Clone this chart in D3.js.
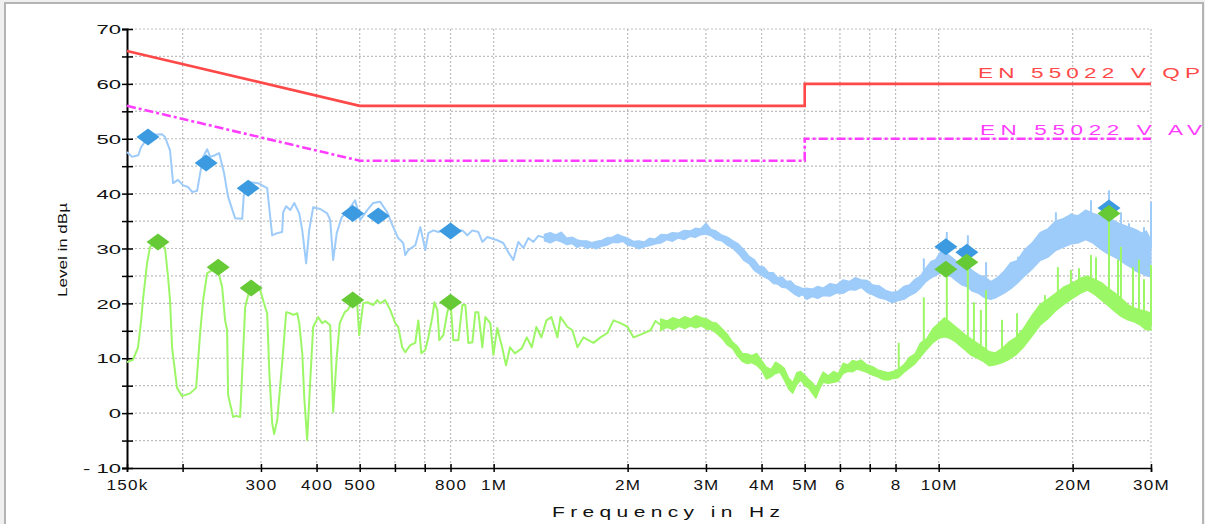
<!DOCTYPE html>
<html>
<head>
<meta charset="utf-8">
<script src="https://cdn.jsdelivr.net/npm/d3@7"></script>
<style>
  body { margin: 0; background: #fff; }
  svg { display: block; font-family: "Liberation Sans", Arial, sans-serif; }
</style>
</head>
<body>
<div id="chart-area"></div>
<script>
// frequencies in kHz, levels in dBµV
const xTickValues = [150, 200, 300, 400, 500, 600, 700, 800, 1000, 2000, 3000, 4000, 5000, 6000, 7000, 8000, 10000, 20000, 30000]
const xTickLabels = ["150k", "", "300", "400", "500", "", "", "800", "1M", "2M", "3M", "4M", "5M", "6", "", "8", "10M", "20M", "30M"]
const yTickValues = [-10, -5, 0, 5, 10, 15, 20, 25, 30, 35, 40, 45, 50, 55, 60, 65, 70]
const yTickLabels = ["- 10", "", "0", "", "10", "", "20", "", "30", "", "40", "", "50", "", "60", "", "70"]

const qpFreq = [150, 500, 5000, 5000, 30000]
const qpLevel = [66, 56, 56, 60, 60]
const avFreq = [150, 500, 5000, 5000, 30000]
const avLevel = [56, 46, 46, 50, 50]

// peak trace, thin part [kHz, dB]
const peakTrace = [[150,47.6],[154,46.7],[159,47.0],[161.4,48.5],[169,50.7],[179.8,50.8],[182.6,50.3],[187.4,47.9],[190.4,41.9],[195.3,42.5],[200.5,41.5],[205.8,41.2],[210.1,40.3],[215.6,40.5],[219,43.7],[222.4,46.7],[227.1,48.1],[230.6,46.7],[236.7,47.0],[241.6,47.4],[247.9,43.7],[253.1,39.4],[262.5,35.5],[272.2,35.4],[275,40.6],[280.8,42.1],[295.7,41.9],[309.8,41.0],[317.9,32.4],[326.3,32.8],[334.8,33.0],[336.5,36.6],[341.8,37.7],[349.1,37.0],[356.4,38.3],[365.7,36.4],[371.5,33.3],[379,27.3],[385,33.3],[393,37.5],[407.5,37.2],[422.6,36.4],[429.2,35.2],[435.9,27.9],[444,32.8],[455.6,35.7],[467.6,36.6],[488.5,38.8],[501.3,35.2],[519.8,37.0],[536.2,38.3],[556,38.5],[576.5,36.6],[594.7,33.9],[610.3,31.9],[626.4,31.0],[633,28.8],[642.8,29.7],[666.7,30.6],[684.2,33.9],[702.2,29.7],[713.2,32.8],[731.9,33.3],[751,33.0],[778.8,33.5],[820.2,33.3],[850.5,33.3],[872.9,32.4],[895.8,33.3],[923.8,33.0],[943.2,31.2],[967.9,32.1],[1019,31.5],[1051,31.0],[1079,29.3],[1107,27.9],[1136,31.2],[1166,30.1],[1197,31.9],[1228,31.2],[1260,32.3],[1300,32.0]]
// peak trace, dense part [kHz, low, high]
const peakBand = [[1300,31.4,32.6],[1340,31.0,32.9],[1380,31.5,32.5],[1420,31.2,33.0],[1460,30.7,31.9],[1500,30.9,32.1],[1540,30.2,31.6],[1580,30.5,31.4],[1620,30.0,31.4],[1660,30.3,31.1],[1700,29.9,31.3],[1750,30.4,31.5],[1800,30.6,32.0],[1850,31.1,32.1],[1900,31.0,32.6],[1950,31.3,32.2],[2000,30.6,31.9],[2060,30.4,31.3],[2120,29.9,31.4],[2180,30.3,31.2],[2240,30.5,31.9],[2300,30.8,31.7],[2380,31.0,32.6],[2450,31.6,32.5],[2520,31.3,32.9],[2600,31.9,32.8],[2680,31.6,33.3],[2760,32.2,33.2],[2840,32.0,33.7],[2920,32.5,33.6],[3000,32.6,34.6],[3080,32.3,33.5],[3160,31.6,33.2],[3250,31.4,32.5],[3350,30.6,32.1],[3450,30.0,31.4],[3550,29.0,30.8],[3650,27.8,29.8],[3750,27.2,28.6],[3850,26.0,28.0],[3950,25.4,26.8],[4050,24.8,26.6],[4150,24.4,25.6],[4250,23.6,25.6],[4350,23.5,24.7],[4450,22.9,24.8],[4550,22.8,24.0],[4650,22.2,24.1],[4750,21.6,23.3],[4850,21.2,23.0],[4950,21.6,22.7],[5050,20.7,22.8],[5200,21.2,22.6],[5350,20.9,23.1],[5500,21.4,22.8],[5700,21.3,23.6],[5900,21.9,23.4],[6100,21.8,24.3],[6300,22.5,24.0],[6500,22.4,24.7],[6700,22.9,24.3],[6900,22.0,24.2],[7100,21.6,23.4],[7350,21.0,23.2],[7600,20.7,22.4],[7850,20.1,22.0],[8100,20.5,22.2],[8350,20.7,23.1],[8600,21.4,23.4],[8850,21.9,24.4],[9100,22.8,25.0],[9350,23.9,26.4],[9600,24.6,27.6],[9850,25.1,28.0],[10100,25.6,29.5],[10400,25.2,29.2],[10700,24.8,28.4],[11000,24.0,27.6],[11300,23.3,27.0],[11600,23.0,26.8],[11900,22.2,26.0],[12300,21.8,25.2],[12700,21.0,24.8],[13100,20.7,24.0],[13500,21.1,24.6],[14000,21.8,25.8],[14500,22.6,27.4],[15000,23.6,27.8],[15600,25.0,29.8],[16200,26.2,31.0],[16900,27.8,32.9],[17600,28.4,33.6],[18300,29.6,35.0],[19000,30.2,35.4],[19800,30.8,36.2],[20600,31.0,36.0],[21400,31.6,37.0],[22200,31.0,36.4],[23000,30.0,36.0],[23800,29.2,35.4],[24600,28.6,35.2],[25400,28.0,34.6],[26200,27.2,34.2],[27000,26.6,33.8],[27800,25.8,33.4],[28600,25.4,32.8],[29300,25.0,33.2],[30000,24.8,31.5]]
// peak spikes [kHz, base, top]
const peakSpikes = [[9260,24,28.2],[10430,28,33.0],[11630,26,32.4],[12780,23,27.5],[15080,25,28.5],[18340,33,36.6],[19820,34,36.4],[21990,35,38.8],[24140,35,40.6],[25680,33,36.6],[26770,31,34.6],[28930,30,33.9],[30000,30,38.5]]

// average trace
const avgTrace = [[150,9.3],[154.7,9.7],[158.8,12.0],[161.4,16.9],[162.9,20.6],[166.4,27.3],[169,30.3],[176.1,31.3],[182.6,30.1],[185.5,24.8],[187.4,20.6],[189.4,12.0],[194.3,4.6],[199.4,3.1],[207.9,3.6],[214.5,4.6],[219,14.6],[222.4,20.6],[227.1,25.5],[234.2,26.1],[239.1,26.6],[245.4,23.0],[249.2,16.9],[251.8,15.1],[253.1,3.3],[259.8,-0.7],[264,-0.5],[269.3,-0.7],[275,15.1],[276.4,19.3],[283.7,22.9],[298.8,22.4],[306.6,19.3],[309.8,18.2],[313.3,7.3],[317.9,-1.8],[321.2,-3.8],[326.3,-1.3],[334.8,9.1],[341.8,18.4],[349.1,18.2],[354.5,17.9],[362,18.2],[365.7,16.4],[371.5,10.9],[375.3,2.9],[381,-4.9],[386.9,5.5],[393,15.7],[403.3,17.5],[411.8,16.4],[418.2,16.8],[429.2,16.0],[435.9,0.2],[444,10.2],[450.9,16.4],[462.8,18.4],[470,18.8],[482.3,20.4],[493.5,20.0],[498.7,14.2],[509.1,20.0],[519.8,20.2],[536.2,19.7],[547.4,20.6],[556,20.0],[570.6,20.6],[585.6,18.8],[601,16.4],[610.3,15.7],[623.1,12.0],[632.9,11.1],[649.7,12.4],[666.7,12.8],[677.2,16.9],[687.8,10.9],[702.2,11.5],[713.2,13.8],[728.1,17.5],[735.7,20.2],[747.2,18.8],[754.9,13.3],[770.7,14.2],[786.9,18.4],[800,20.3],[811.7,13.3],[833,13.3],[850.5,19.7],[863.9,19.7],[877.4,12.8],[895.8,12.9],[909.6,18.4],[923.8,18.4],[943.2,12.0],[957.9,17.5],[983,16.4],[998.4,10.6],[1019,15.5],[1035,13.3],[1045,12.0],[1066,8.7],[1088,12.0],[1116,10.9],[1157,11.8],[1187,13.8],[1218,12.0],[1247,15.7],[1280,13.8],[1314,16.9],[1348,17.5],[1391,13.8],[1413,17.5],[1465,15.7],[1503,15.1],[1543,12.0],[1591,13.8],[1676,12.8],[1738,13.8],[1802,14.6],[1859,16.9],[1928,16.4],[2000,15.7],[2062,13.8],[2138,14.3],[2252,15.1],[2310,16.8],[2371,16.1]]
const avgBand = [[2371,15.0,17.2],[2450,15.6,16.8],[2530,15.2,17.4],[2610,15.8,17.0],[2690,15.4,17.6],[2770,15.9,17.2],[2850,15.5,17.8],[2930,15.9,17.4],[3010,15.3,17.2],[3090,15.2,16.6],[3170,14.5,16.4],[3260,13.6,15.4],[3350,12.4,14.4],[3440,11.8,13.0],[3530,10.4,12.2],[3620,9.4,10.9],[3710,9.0,10.8],[3800,9.2,10.5],[3900,8.7,10.9],[4000,7.8,9.6],[4100,6.2,8.4],[4200,6.6,8.0],[4300,7.2,9.3],[4400,7.4,8.8],[4500,6.0,8.2],[4600,4.4,6.4],[4700,3.6,5.6],[4800,5.2,7.4],[4900,6.0,7.6],[5000,5.0,6.9],[5100,4.6,6.2],[5200,3.6,5.6],[5300,2.7,4.6],[5400,4.4,6.2],[5500,5.6,7.5],[5650,5.4,6.8],[5800,5.6,7.6],[5950,5.8,7.2],[6100,7.2,9.1],[6250,7.6,8.8],[6400,7.5,9.6],[6550,8.0,9.4],[6700,7.8,9.7],[6900,7.4,8.8],[7100,6.9,8.5],[7300,6.6,7.9],[7500,6.1,7.6],[7700,6.0,7.4],[7900,6.3,7.6],[8100,6.4,8.0],[8350,7.4,8.8],[8600,8.2,10.2],[8850,9.0,10.8],[9100,10.2,12.8],[9400,11.6,13.6],[9700,12.8,15.4],[10000,13.6,16.4],[10300,13.9,17.4],[10600,13.6,16.6],[10900,13.0,15.8],[11200,12.2,15.0],[11500,11.4,14.2],[11800,10.6,13.6],[12200,10.0,12.8],[12600,9.4,12.0],[13000,8.6,11.2],[13400,8.8,11.0],[13900,9.2,11.8],[14400,9.8,13.0],[14900,10.6,13.8],[15500,12.0,15.4],[16200,14.0,17.8],[16900,16.0,19.8],[17600,17.2,20.8],[18300,18.6,21.8],[19100,19.8,23.0],[19900,20.8,23.6],[20800,21.8,24.6],[21600,22.4,25.0],[22400,21.6,24.4],[23200,20.6,23.8],[24000,19.6,22.8],[24800,18.6,22.0],[25700,17.6,21.0],[26600,17.0,19.8],[27500,16.6,19.2],[28400,16.0,18.8],[29200,15.2,18.6],[30000,15.1,18.2]]
const avgSpikes = [[8134,7,12.8],[9260,11,21.1],[10430,15,26.2],[11630,13,27.5],[12000,11,20.2],[12440,10,18.8],[12780,10,22.4],[13880,10,17.0],[15000,12,18.2],[17330,17,21.5],[18530,19,26.6],[19820,21,26.1],[20670,22,26.4],[21990,23,28.8],[22570,23,28.4],[24140,22,36.3],[25290,19,28.0],[25680,19,30.3],[27330,17,26.6],[28190,17,28.0],[28930,17,24.4],[30000,16,27.0]]

const peakMarkers = [[167.2,50.3],[225.9,45.6],[280.8,41.0],[482.3,36.4],[550.3,35.9],[800,33.2],[10380,30.3],[11570,29.3],[24140,37.4]]
const avgMarkers = [[176.1,31.2],[240.4,26.6],[285.1,22.8],[482.3,20.6],[800,20.2],[10380,26.2],[11570,27.5],[24140,36.4]]

const W = 1205, H = 524
const PLOT = {LEFT:127, RIGHT:1151, TOP:29, BOTTOM:468}

const svg = d3.select("#chart-area").append("svg")
  .attr("width", W)
  .attr("height", H)

// frame
svg.append("rect").attr("width", W).attr("height", H).attr("fill", "#f0f0f0")
svg.append("rect")
  .attr("x", 5).attr("y", 3).attr("width", W - 7).attr("height", H)
  .attr("fill", "#fff").attr("stroke", "#b4b4b4").attr("stroke-width", 2)

const x = d3.scaleLog()
  .domain([150, 30000])
  .range([PLOT.LEFT, PLOT.RIGHT])
const y = d3.scaleLinear()
  .domain([-10, 70])
  .range([PLOT.BOTTOM, PLOT.TOP])

// grid
const grid = svg.append("g").attr("stroke", "#bdbdbd").attr("stroke-width", 1.2).attr("stroke-dasharray", "2,2")
grid.selectAll(".vg").data(xTickValues.slice(1)).enter().append("line")
  .attr("x1", d => x(d)).attr("x2", d => x(d))
  .attr("y1", PLOT.TOP).attr("y2", PLOT.BOTTOM)
grid.selectAll(".hg").data(yTickValues.slice(1)).enter().append("line")
  .attr("y1", d => y(d)).attr("y2", d => y(d))
  .attr("x1", PLOT.LEFT).attr("x2", PLOT.RIGHT)

// axes
const xAxisCall = d3.axisBottom(x)
  .tickValues(xTickValues)
  .tickFormat((d, i) => xTickLabels[i])
  .tickSize(4)
const xAxisG = svg.append("g")
  .attr("transform", `translate(0,${PLOT.BOTTOM})`)
  .call(xAxisCall)
xAxisG.select(".domain").attr("stroke", "#000").attr("stroke-width", 1.5)
xAxisG.selectAll(".tick line").attr("y1", -4).attr("y2", 4).attr("stroke", "#000").attr("stroke-width", 1.5)
xAxisG.selectAll(".tick text")
  .attr("y", 22).attr("dy", 0)
  .attr("font-size", 14)
  .attr("letter-spacing", 1)
  .attr("fill", "#111")
  .attr("font-family", "'Liberation Sans', Arial, sans-serif")
  .attr("transform", "scale(1.22,1)")

const yAxisCall = d3.axisLeft(y)
  .tickValues(yTickValues)
  .tickFormat((d, i) => yTickLabels[i])
  .tickSize(5)
const yAxisG = svg.append("g")
  .attr("transform", `translate(${PLOT.LEFT},0)`)
  .call(yAxisCall)
yAxisG.select(".domain").attr("stroke", "#000").attr("stroke-width", 2)
yAxisG.selectAll(".tick line").attr("x1", -5).attr("x2", 6).attr("stroke", "#000").attr("stroke-width", 1.5)
yAxisG.selectAll(".tick text")
  .attr("x", -6 / 1.7).attr("dy", "0.36em")
  .attr("font-size", 13)
  .attr("fill", "#111")
  .attr("font-family", "'Liberation Sans', Arial, sans-serif")
  .attr("transform", "scale(1.7,1)")

// wide, spaced-out labels: stretch glyphs by kx and spread to the full width
function wideText(px, py, str, width, kx, size, color) {
  svg.append("text")
    .attr("transform", `translate(${px},${py}) scale(${kx},1)`)
    .attr("textLength", width / kx).attr("lengthAdjust", "spacing")
    .attr("font-size", size).attr("fill", color)
    .text(str)
}

// axis titles
wideText(552, 517, "Frequency in Hz", 228, 1.4, 15, "#111")
svg.append("text")
  .attr("transform", "translate(67,297) rotate(-90)")
  .attr("textLength", 94).attr("lengthAdjust", "spacingAndGlyphs")
  .attr("font-size", 12).attr("fill", "#111")
  .text("Level in dBµ")

// limit lines
const limitLine = d3.line().x(d => x(d[0])).y(d => y(d[1]))
svg.append("path")
  .attr("d", limitLine(d3.zip(qpFreq, qpLevel)))
  .attr("fill", "none").attr("stroke", "#ff4848").attr("stroke-width", 2.6)
svg.append("path")
  .attr("d", limitLine(d3.zip(avFreq, avLevel)))
  .attr("fill", "none").attr("stroke", "#ff3dff").attr("stroke-width", 2.6)
  .attr("stroke-dasharray", "9,3,3,3")

wideText(978, 78, "EN 55022 V QP", 222, 1.5, 15, "#ff4848")
wideText(980, 135, "EN 55022 V AV", 222, 1.5, 15, "#ff3dff")

// traces
const traceLine = d3.line().x(d => x(d[0])).y(d => y(d[1]))
const bandArea = d3.area().x(d => x(d[0])).y0(d => y(d[1])).y1(d => y(d[2]))

function drawTrace(trace, band, spikes, color) {
  const g = svg.append("g")
  g.append("path").attr("d", traceLine(trace))
    .attr("fill", "none").attr("stroke", color).attr("stroke-width", 2)
    .attr("stroke-linejoin", "round")
  g.append("path").attr("d", bandArea(band))
    .attr("fill", color).attr("stroke", color).attr("stroke-width", 1.2)
    .attr("stroke-linejoin", "round")
  g.selectAll(".spike").data(spikes).enter().append("line")
    .attr("x1", d => x(d[0])).attr("x2", d => x(d[0]))
    .attr("y1", d => y(d[1])).attr("y2", d => y(d[2]))
    .attr("stroke", color).attr("stroke-width", 2)
}
drawTrace(peakTrace, peakBand, peakSpikes, "#9dcbfa")
drawTrace(avgTrace, avgBand, avgSpikes, "#9cf766")

// markers
function diamond(cx, cy) {
  const p = d3.path()
  p.moveTo(cx - 11.5, cy); p.lineTo(cx, cy - 8.5); p.lineTo(cx + 11.5, cy); p.lineTo(cx, cy + 8.5); p.closePath()
  return p.toString()
}
svg.selectAll(".pm").data(peakMarkers).enter().append("path")
  .attr("d", d => diamond(x(d[0]), y(d[1])))
  .attr("fill", "#3c9be0")
svg.selectAll(".am").data(avgMarkers).enter().append("path")
  .attr("d", d => diamond(x(d[0]), y(d[1])))
  .attr("fill", "#66c936")
</script>
</body>
</html>
